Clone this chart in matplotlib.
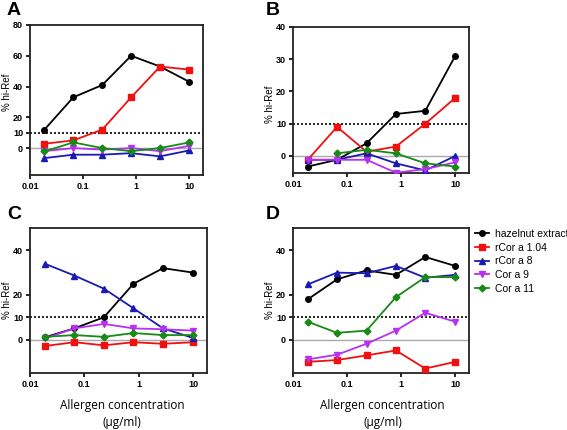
import numpy as np
import matplotlib.pyplot as plt

conc = [0.0187, 0.0653, 0.229, 0.80, 2.8, 10]
labels = ["hazelnut extract", "rCor a 1.04", "rCor a 8", "Cor a 9", "Cor a 11"]

# panel A
a_hazel = [12, 33, 41, 60, 53, 43]
a_cor104 = [2.8, 5, 12, 33, 53, 51]
a_cor8 = [-6.5, -4.3, -4.3, -3.3, -5.4, -1.5]
a_cor9 = [-2, 0, -1, 0, -2, 1.5]
a_cor11 = [-2.2, 3.7, 0, -2, 0, 3.7]

# panel B
b_hazel = [-3.3, -1.2, 3.9, 13, 14, 31]
b_cor104 = [-1.2, 9, 1.3, 2.9, 10, 18]
b_cor8 = [-1.2, -1.2, 0.8, -2.3, -4.5, 0]
b_cor9 = [-1.2, -1.2, -1.2, -5.2, -4.1, -2]
b_cor11 = [np.nan, 0.8, 1.9, 0.8, -2.3, -3.3]

# panel C
c_hazel = [1, 5, 10, 25, 32, 30]
c_cor104 = [-2.9, -1.2, -2.6, -1.2, -1.9, -1.2]
c_cor8 = [34, 28.7, 22.8, 14, 5, 0.7]
c_cor9 = [0.5, 5, 7, 5, 4.6, 4]
c_cor11 = [1.2, 2, 1.2, 2.9, 2, 2]

# panel D
d_hazel = [18, 27, 31, 29, 37, 33]
d_cor104 = [-10, -9.2, -7.1, -4.9, -13, -10]
d_cor8 = [24.7, 30, 29.7, 33, 27.7, 29]
d_cor9 = [-8.9, -6.8, -1.9, 4, 12, 8]
d_cor11 = [8, 3, 4, 19, 28, 28]

colors = ["black", "#f01010", "#1a1ab4", "#b830f0", "#178a17"]
markers = ["o", "s", "^", "v", "D"]
msizes = [4, 4.5, 4, 4, 3.5]

plt.rcParams['font.family'] = ['Liberation Sans', 'DejaVu Sans']

fig = plt.figure(figsize=(5.67, 4.30), dpi=100)
W, H = 567, 430


def box(l, r, t, b):
    return [l / W, (H - b) / H, (r - l) / W, (b - t) / H]


panels = [
    ("A", box(30, 203, 25, 175), (-17.5, 80), [0, 10, 20, 40, 60, 80],
     [a_hazel, a_cor104, a_cor8, a_cor9, a_cor11], (7, 2), 0.55),
    ("B", box(293, 469, 27, 173), (-5.3, 40), [0, 10, 20, 30, 40],
     [b_hazel, b_cor104, b_cor8, b_cor9, b_cor11], (266, 2), 0.47),
    ("C", box(30, 207, 228, 373), (-15, 50), [0, 10, 20, 40],
     [c_hazel, c_cor104, c_cor8, c_cor9, c_cor11], (7, 206), 0.5),
    ("D", box(293, 469, 228, 373), (-15, 50), [0, 10, 20, 40],
     [d_hazel, d_cor104, d_cor8, d_cor9, d_cor11], (266, 206), 0.5),
]

for name, pos, ylim, yticks, series, lpos, ly in panels:
    ax = fig.add_axes(pos)
    ax.axhline(0, color="#aaaaaa", lw=1.0, zorder=1)
    ax.axhline(10, color="black", lw=1.2, ls=(0, (1.2, 1.2)), zorder=1)
    for vals, c, m, ms, lab in zip(series, colors, markers, msizes, labels):
        ax.plot(conc, vals, color=c, marker=m, markersize=ms, lw=1.3,
                label=lab, zorder=3)
    ax.set_xscale("log")
    ax.set_xlim(0.01, 18)
    ax.set_ylim(*ylim)
    ax.set_xticks([0.01, 0.1, 1, 10])
    ax.set_xticklabels(["0.01", "0.1", "1", "10"])
    ax.minorticks_off()
    ax.set_yticks(yticks)
    for s in ax.spines.values():
        s.set_linewidth(1.3)
        s.set_color("#222222")
    ax.tick_params(labelsize=6.5, width=1.2, length=3, direction="out",
                   top=False, right=False, pad=2)
    for t in ax.get_xticklabels() + ax.get_yticklabels():
        t.set_fontweight("bold")
    ax.set_ylabel("% hi-Ref", fontsize=7)
    ax.yaxis.set_label_coords(-18 / (pos[2] * W), ly)
    ax.set_zorder(2)
    fig.text(lpos[0] / W, 1 - lpos[1] / H, name, fontsize=14,
             fontweight="bold", va="top", ha="left")
    if name in ("C", "D"):
        cx = pos[0] + pos[2] * (0.52 if name == "C" else 0.51)
        fig.text(cx, 1 - 414 / H, "Allergen concentration\n(µg/ml)",
                 fontsize=8.5, family=["Open Sans", "DejaVu Sans"],
                 ha="center", va="center", linespacing=1.4)
    if name == "D":
        handles, labs = ax.get_legend_handles_labels()

fig.legend(handles, labs, loc="upper left",
           bbox_to_anchor=(475 / W, 1 - 229 / H), frameon=False,
           fontsize=7.5, handlelength=1.3, handletextpad=0.6,
           labelspacing=0.35, borderaxespad=0, borderpad=0)

fig.savefig("out.png", dpi=100)
